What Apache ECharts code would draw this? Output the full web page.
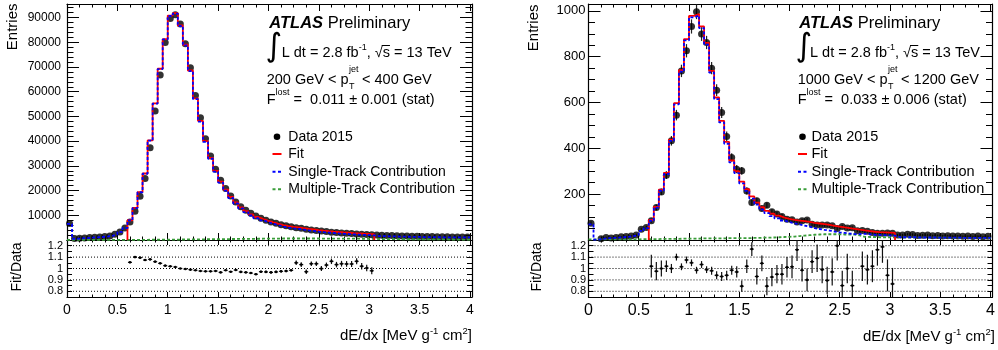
<!DOCTYPE html>
<html>
<head>
<meta charset="utf-8">
<script src="https://cdn.jsdelivr.net/npm/echarts@6/dist/echarts.min.js"></script>
<style>
  html, body { margin: 0; padding: 0; background: #fff; }
  #chart { width: 998px; height: 350px; }
</style>
</head>
<body>
<div id="chart"></div>
<script>
// dE/dx histograms, 80 bins of 0.05 MeV g^-1 cm^2 from 0 to 4
const binWidth = 0.05;
const nBins = 80;

// ---- left: 200 GeV < pT < 400 GeV ----
const dataLow = [6700, 580, 700, 840, 980, 1110, 1250, 1380, 1650, 2320, 3270, 4880,
  7300, 11600, 17700, 24900, 37300, 52200, 66800, 79900, 89600, 91200,
  87400, 79400, 69700, 58500, 49500, 41000, 34000, 28600, 24200, 20800,
  17800, 15400, 13500, 12000, 10800, 9700, 8800, 8000, 7300, 6800,
  6200, 5800, 5400, 5000, 4750, 4350, 4070, 3800, 3670, 3400,
  3130, 3000, 2860, 2730, 2600, 2460, 2320, 2190, 2100, 2000,
  1930, 1850, 1780, 1720, 1650, 1600, 1550, 1500, 1450, 1420,
  1380, 1350, 1320, 1290, 1260, 1240, 1220, 1200];
const fitLow = [null, null, null, null, null, null, null, null, null, null, null, null,
  8000, 13000, 19400, 26900, 40300, 55300, 69300, 81300, 90800, 91800,
  86800, 79000, 68600, 57300, 48200, 40000, 33200, 28000, 23600, 20400,
  17400, 15200, 13200, 11700, 10400, 9300, 8500, 7750, 7100, 6550,
  6050, 5650, 5300, 5100, 4800, 4500, 4250, 4000, 3780, 3580,
  3400, 3230, 3080, 2940, 2800, 2680, 2560, 2450, 2350, null,
  null, null, null, null, null, null, null, null, null, null,
  null, null, null, null, null, null, null, null];
const singleLow = [6500, 500, 650, 800, 950, 1080, 1220, 1380, 1650, 2300, 3250, 4850,
  7940, 12930, 19320, 26810, 40200, 55190, 69180, 81160, 90640, 91620,
  86600, 78780, 68360, 57040, 47920, 39700, 32880, 27660, 23240, 20020,
  17000, 14780, 12760, 11240, 9920, 8800, 7980, 7210, 6540, 5970,
  5450, 5050, 4700, 4500, 4200, 3900, 3650, 3400, 3190, 3000,
  2830, 2670, 2530, 2400, 2270, 2160, 2050, 1950, 1860, 1600,
  1550, 1490, 1440, 1400, 1350, 1310, 1270, 1230, 1190, 1170,
  1140, 1120, 1100, 1080, 1060, 1050, 1040, 1030];
const multiLow = [30, 30, 30, 30, 30, 30, 30, 30, 30, 30, 30, 30,
  60, 70, 80, 90, 100, 110, 120, 140, 160, 180,
  200, 220, 240, 260, 280, 300, 320, 340, 360, 380,
  400, 420, 440, 460, 480, 500, 520, 540, 560, 580,
  600, 600, 600, 600, 600, 600, 600, 600, 590, 580,
  570, 560, 550, 540, 530, 520, 510, 500, 490, 400,
  380, 360, 340, 320, 300, 290, 280, 270, 260, 250,
  240, 230, 220, 210, 200, 190, 180, 170];
const ratioLow = [null, null, null, null, null, null, null, null, null, null, null, null,
  1.054, 1.10, 1.095, 1.074, 1.08, 1.06, 1.045, 1.025, 1.019, 1.013,
  1.0, 0.995, 0.99, 0.984, 0.978, 0.975, 0.975, 0.978, 0.966, 0.984,
  0.972, 0.987, 0.97, 0.966, 0.96, 0.95, 0.972, 0.97, 0.966, 0.97,
  0.975, 0.978, 0.984, 1.05, 1.034, 0.972, 1.042, 1.042, 0.999, 1.03,
  1.063, 1.034, 1.042, 1.04, 1.04, 1.063, 1.02, 1.004, 0.98];
const ratioErrLow = [null, null, null, null, null, null, null, null, null, null, null, null,
  0.004, 0.004, 0.004, 0.004, 0.004, 0.004, 0.004, 0.004, 0.004, 0.004,
  0.004, 0.004, 0.004, 0.004, 0.004, 0.004, 0.004, 0.004, 0.006, 0.006,
  0.006, 0.006, 0.006, 0.006, 0.006, 0.006, 0.01, 0.01, 0.01, 0.01,
  0.01, 0.01, 0.01, 0.02, 0.02, 0.02, 0.02, 0.02, 0.022, 0.022,
  0.024, 0.024, 0.025, 0.025, 0.026, 0.026, 0.028, 0.028, 0.03];

// ---- right: 1000 GeV < pT < 1200 GeV ----
const dataHigh = [73, null, 6, 11, 9, 11, 14, 15, 18, 22, 47, 55,
  84, 142, 210, 283, 433, 545, 738, 826, 932, 996,
  899, 862, 750, 654, 557, 452, 360, 309, 302, 214,
  164, 171, 137, 152, 123, 113, 103, 91, 88, 79,
  84, 87, 69, 66, 66, 65, 62, 50, 59, 52,
  53, 40, 41, 38, 33, 30, 30, 31, 30, 22,
  22, 25, 24, 20, 21, 22, 19, 20, 18, 19,
  17, 18, 16, 17, 15, 17, 14, 16];
const errHigh = [9, null, 3, 3, 3, 3, 4, 4, 4, 5, 7, 7,
  9, 12, 14, 17, 21, 23, 27, 29, 31, 32,
  30, 29, 27, 26, 24, 21, 19, 18, 17, 15,
  13, 13, 12, 12, 11, 11, 10, 10, 9, 9,
  9, 9, 8, 8, 8, 8, 8, 7, 8, 7,
  7, 6, 6, 6, 6, 5, 5, 6, 5, 5,
  5, 5, 5, 5, 5, 5, 4, 4, 4, 4,
  4, 4, 4, 4, 4, 4, 4, 4];
const fitHigh = [null, null, null, null, null, null, null, null, null, null, null, null,
  88, 145, 220, 293, 438, 597, 741, 877, 978, 986,
  932, 860, 738, 622, 520, 428, 347, 300, 255, 222,
  190, 163, 143, 127, 115, 106, 98, 92, 88, 85,
  82, 79, 75, 72, 69, 66, 62, 58, 55, 52,
  49, 45, 42, 39, 36, 34, 33, 32, 31, null,
  null, null, null, null, null, null, null, null, null, null,
  null, null, null, null, null, null, null, null];
const singleHigh = [68, 2, 5, 8, 9, 10, 12, 14, 17, 22, 40, 52,
  84, 141, 215, 288, 433, 592, 735, 871, 972, 980,
  925, 853, 731, 615, 513, 420, 339, 292, 247, 214,
  181, 154, 133, 117, 104, 94, 85, 78, 73, 68,
  63, 58, 52, 48, 44, 41, 37, 33, 31, 28,
  26, 26, 27, 25, 23, 22, 21, 20, 19, 12,
  12, 12, 12, 11, 11, 11, 11, 10, 10, 10,
  10, 10, 9, 9, 9, 9, 9, 9];
const multiHigh = [3, 3, 3, 3, 3, 3, 3, 3, 3, 3, 4, 4,
  4, 4, 5, 5, 5, 5, 6, 6, 6, 6,
  7, 7, 7, 7, 7, 8, 8, 8, 8, 8,
  9, 9, 10, 10, 11, 12, 13, 14, 15, 17,
  19, 21, 23, 24, 25, 25, 25, 25, 24, 24,
  24, 20, 14, 13, 13, 12, 12, 12, 12, 11,
  11, 11, 11, 10, 10, 10, 10, 10, 10, 9,
  9, 9, 9, 9, 9, 8, 8, 8];
const ratioHigh = [null, null, null, null, null, null, null, null, null, null, null, null,
  1.02, 0.976, 1.0, 1.02, 1.0, 1.1, 1.015, 1.075, 1.05, 0.985,
  1.035, 0.99, 0.98, 0.94, 0.93, 0.94, 0.985, 0.97, 0.845, 1.02,
  1.17, 0.93, 1.045, 0.845, 0.925, 0.95, 0.95, 1.01, 1.015, 1.165,
  0.985, 0.9, 1.06, 1.09, 0.99, 0.895, 0.97, 1.2, 0.85, 1.0,
  0.85, null, 1.02, 0.99, 1.02, 1.165, 1.19, 0.94, 0.865];
const ratioErrHigh = [null, null, null, null, null, null, null, null, null, null, null, null,
  0.1, 0.08, 0.07, 0.05, 0.04, 0.03, 0.03, 0.03, 0.03, 0.03,
  0.03, 0.03, 0.035, 0.035, 0.04, 0.04, 0.04, 0.05, 0.05, 0.06,
  0.06, 0.07, 0.07, 0.08, 0.08, 0.08, 0.09, 0.09, 0.1, 0.1,
  0.1, 0.1, 0.1, 0.12, 0.12, 0.12, 0.12, 0.13, 0.13, 0.13,
  0.13, null, 0.13, 0.13, 0.14, 0.14, 0.14, 0.14, 0.14];

const ratioRefs = [0.8, 0.9, 1.0, 1.1, 1.2];

const FONT = "'Liberation Sans', Arial, Helvetica, sans-serif";
const RED = '#ff0000', BLUE = '#0000ff', GREEN = '#3a9d3a';

// ---------- helpers ----------
const measureCtx = document.createElement('canvas').getContext('2d');
function textWidth(str, font) {
  measureCtx.font = font;
  return measureCtx.measureText(str).width;
}
function fontOf(p, base) {
  return ((p.style || '') + ' ' + (p.size || base) + 'px ' + (p.family || FONT)).trim();
}
function advOf(p, base) {
  if (p.adv !== undefined) return p.adv;
  return textWidth(p.advText || p.t, fontOf(p, base));
}
// a line of text made of runs (for super/subscripts)
function textRun(x, y, parts, base, align) {
  const total = parts.reduce((w, p) => w + advOf(p, base), 0);
  let cx = align === 'right' ? x - total : x;
  const els = [], pos = [];
  parts.forEach(p => {
    const font = fontOf(p, base);
    els.push({
      type: 'text', x: cx + (p.dx || 0), y: y + (p.dy || 0), z: 100, silent: true,
      style: { text: p.t, font: font, fill: '#000', textAlign: 'left', textVerticalAlign: 'middle', align: 'left', verticalAlign: 'middle' }
    });
    pos.push({ x: cx, w: textWidth(p.t, font) });
    cx += advOf(p, base);
  });
  return { els: els, pos: pos };
}
function vText(x, y, str, size, align) {
  return {
    type: 'text', x: x, y: y, rotation: Math.PI / 2, z: 100, silent: true,
    style: { text: str, font: size + 'px ' + FONT, fill: '#000', textAlign: align, textVerticalAlign: 'middle', align: align, verticalAlign: 'middle' }
  };
}

// step outline of a histogram, built from bin values
function stepLine(vals, dropEnds) {
  const pts = [];
  let open = false;
  vals.forEach((v, i) => {
    const x0 = binWidth * i, x1 = binWidth * (i + 1);
    if (v == null) {
      if (open && dropEnds) pts.push([x0, 0]);
      open = false;
      return;
    }
    if (!open && dropEnds) pts.push([x0, 0]);
    pts.push([x0, v], [x1, v]);
    open = true;
  });
  if (open && dropEnds) pts.push([binWidth * vals.length, 0]);
  return pts;
}
function points(vals) {
  const out = [];
  vals.forEach((v, i) => { if (v != null) out.push([binWidth * (i + 0.5), v]); });
  return out;
}
function errPoints(vals, errs) {
  const out = [];
  vals.forEach((v, i) => { if (v != null && errs[i] != null) out.push([binWidth * (i + 0.5), v, errs[i]]); });
  return out;
}

// ---------- axes ----------
const fmtX = v => (Math.abs(v * 2 - Math.round(v * 2)) < 1e-6 && v <= 4.0001) ? String(Math.round(v * 2) / 2) : '';
function xAxesFor(grid, labelSize, isRatio) {
  const base = {
    type: 'value', gridIndex: grid, min: 0, max: 4.02, interval: 0.5,
    splitLine: { show: false },
    axisLine: { show: true, onZero: false, lineStyle: { color: '#000', width: 1.2 } },
    axisTick: { show: true, inside: true, length: isRatio ? 5 : 7, lineStyle: { color: '#000', width: 1 } },
    minorTick: { show: true, splitNumber: 4, length: isRatio ? 2.5 : 3.5, lineStyle: { color: '#000', width: 1 } }
  };
  return [
    Object.assign({}, base, {
      position: 'bottom',
      axisLabel: isRatio ? { show: true, fontSize: labelSize, color: '#000', fontFamily: FONT, margin: 6, formatter: fmtX } : { show: false }
    }),
    Object.assign({}, base, { position: 'top', axisLabel: { show: false } })
  ];
}
function yAxesMain(grid, max, interval, split, labelSize, margin) {
  const base = {
    type: 'value', gridIndex: grid, min: 0, max: max, interval: interval,
    splitLine: { show: false },
    axisLine: { show: true, onZero: false, lineStyle: { color: '#000', width: 1.2 } },
    axisTick: { show: true, inside: true, length: 12, lineStyle: { color: '#000', width: 1 } },
    minorTick: { show: true, splitNumber: split, length: 6.5, lineStyle: { color: '#000', width: 1 } }
  };
  return [
    Object.assign({}, base, {
      position: 'left',
      axisLabel: {
        show: true, fontSize: labelSize, color: '#000', fontFamily: FONT, margin: margin,
        formatter: v => (v > 0 && v % interval === 0) ? String(v) : ''
      }
    }),
    Object.assign({}, base, { position: 'right', axisLabel: { show: false } })
  ];
}
function yAxesRatio(grid, labelSize, margin) {
  const base = {
    type: 'value', gridIndex: grid, min: 0.75, max: 1.25, interval: 0.05,
    splitLine: { show: false },
    axisLine: { show: true, onZero: false, lineStyle: { color: '#000', width: 1.2 } },
    axisTick: { show: true, inside: true, length: 5, lineStyle: { color: '#000', width: 1 } }
  };
  return [
    Object.assign({}, base, {
      position: 'left',
      axisLabel: {
        show: true, fontSize: labelSize, color: '#000', fontFamily: FONT, margin: margin,
        formatter: v => (Math.abs(v * 10 - Math.round(v * 10)) < 1e-6 && v > 0.79 && v < 1.21) ? String(Math.round(v * 10) / 10) : ''
      }
    }),
    Object.assign({}, base, { position: 'right', axisLabel: { show: false } })
  ];
}

// ---------- series ----------
function histSeries(xi, yi, vals, color, dash, dropEnds) {
  return {
    type: 'line', xAxisIndex: xi, yAxisIndex: yi, data: stepLine(vals, dropEnds),
    showSymbol: false, symbol: 'none', silent: true, clip: true,
    lineStyle: { color: color, width: 1.8, type: dash ? [3, 2] : 'solid' }
  };
}
function mainSeries(xi, yi, data, fit, single, multi, errs) {
  const s = [
    histSeries(xi, yi, multi, GREEN, true, false),
    histSeries(xi, yi, fit, RED, false, true),
    histSeries(xi, yi, single, BLUE, true, false)
  ];
  if (errs) {
    s.push({
      type: 'custom', xAxisIndex: xi, yAxisIndex: yi, data: errPoints(data, errs), silent: true,
      encode: { x: 0, y: 1 },
      renderItem: (params, api) => {
        const x = api.value(0), y = api.value(1), e = api.value(2);
        const a = api.coord([x, y - e]), b = api.coord([x, y + e]);
        return { type: 'line', shape: { x1: a[0], y1: a[1], x2: b[0], y2: b[1] }, style: { stroke: '#222', lineWidth: 1.2 } };
      }
    });
  }
  s.push({
    type: 'scatter', xAxisIndex: xi, yAxisIndex: yi, data: points(data), silent: true,
    symbol: 'circle', symbolSize: 7, itemStyle: { color: '#000' }
  });
  return s;
}
function ratioSeries(xi, yi, ratio, errs) {
  const s = ratioRefs.map(r => ({
    type: 'line', xAxisIndex: xi, yAxisIndex: yi, data: [[0, r], [4.02, r]],
    showSymbol: false, symbol: 'none', silent: true,
    lineStyle: { color: '#000', width: 1, type: [1, 2] }
  }));
  s.push({
    type: 'custom', xAxisIndex: xi, yAxisIndex: yi, data: errPoints(ratio, errs), silent: true,
    encode: { x: 0, y: 1 },
    renderItem: (params, api) => {
      const x = api.value(0), y = api.value(1), e = api.value(2);
      const lo = Math.max(0.75, y - e), hi = Math.min(1.25, y + e);
      const a = api.coord([x, lo]), b = api.coord([x, hi]);
      const l = api.coord([x - 0.02, y]), r = api.coord([x + 0.02, y]);
      const c = api.coord([x, y]);
      return {
        type: 'group', children: [
          { type: 'line', shape: { x1: a[0], y1: a[1], x2: b[0], y2: b[1] }, style: { stroke: '#111', lineWidth: 1.2 } },
          { type: 'line', shape: { x1: l[0], y1: l[1], x2: r[0], y2: r[1] }, style: { stroke: '#111', lineWidth: 1.2 } },
          { type: 'circle', shape: { cx: c[0], cy: c[1], r: 1.3 }, style: { fill: '#000' } }
        ]
      };
    }
  });
  return s;
}

// ---------- text boxes ----------
function infoBox(x0, lines) {
  const els = [];
  // ATLAS Preliminary
  els.push(...textRun(x0.atlas, 23, [
    { t: 'ATLAS', style: 'italic bold' }, { t: ' Preliminary' }
  ], 16.5).els);
  // integral sign
  els.push({
    type: 'text', x: x0.integral, y: 48, z: 100, silent: true,
    style: { text: '\u222B', font: '32px DejaVu Sans', fill: '#000', textAlign: 'left', textVerticalAlign: 'middle', align: 'left', verticalAlign: 'middle' }
  });
  const lumi = textRun(x0.lumi, 53, [
    { t: 'L dt = 2.8 fb' }, { t: '-1', size: 9, dy: -5 }, { t: ', ' }, { t: '\u221A' }, { t: 's' }, { t: ' = 13 TeV' }
  ], 14.5);
  els.push(...lumi.els);
  const sq = lumi.pos[3], sv = lumi.pos[4];
  els.push({ type: 'line', z: 100, silent: true, shape: { x1: sq.x + sq.w - 1, y1: 45.5, x2: sv.x + sv.w, y2: 45.5 }, style: { stroke: '#000', lineWidth: 1 } });
  els.push(...textRun(x0.text, 80, [
    { t: lines.ptLo + ' GeV < p' }, { t: 'jet', size: 9, dy: -10, dx: 0.5, adv: 0 }, { t: 'T', size: 9, dy: 7, dx: 0.5, advText: 'jet' }, { t: ' < ' + lines.ptHi + ' GeV' }
  ], 14.5).els);
  els.push(...textRun(x0.text, 100, [
    { t: 'F' }, { t: 'lost', size: 9, dy: -7 }, { t: ' =  ' + lines.flost + ' \u00B1 ' + lines.ferr + ' (stat)' }
  ], 14.5).els);
  // legend
  const ly = [136.7, 154, 171.7, 189.3];
  const mx = x0.marker;
  els.push({ type: 'circle', z: 100, silent: true, shape: { cx: mx, cy: ly[0], r: 3.3 }, style: { fill: '#000' } });
  els.push({ type: 'line', z: 100, silent: true, shape: { x1: mx - 4.5, y1: ly[1], x2: mx + 4.5, y2: ly[1] }, style: { stroke: RED, lineWidth: 2 } });
  els.push({ type: 'line', z: 100, silent: true, shape: { x1: mx - 4.5, y1: ly[2], x2: mx + 4.5, y2: ly[2] }, style: { stroke: BLUE, lineWidth: 2, lineDash: [3, 2.5] } });
  els.push({ type: 'line', z: 100, silent: true, shape: { x1: mx - 4.5, y1: ly[3], x2: mx + 4.5, y2: ly[3] }, style: { stroke: GREEN, lineWidth: 2, lineDash: [3, 2.5] } });
  ['Data 2015', 'Fit', 'Single-Track Contribution', 'Multiple-Track Contribution'].forEach((t, i) => {
    els.push(...textRun(x0.legend, ly[i], [{ t: t }], x0.legendSize).els);
  });
  return els;
}
function xTitle(right, y) {
  return textRun(right, y, [
    { t: 'dE/dx [MeV g' }, { t: '-1', size: 9.5, dy: -5 }, { t: ' cm' }, { t: '2', size: 9.5, dy: -5 }, { t: ']' }
  ], 15, 'right').els;
}

const graphics = [].concat(
  infoBox({ atlas: 269.3, integral: 265.5, lumi: 281.7, text: 266.7, marker: 277, legend: 288.3, legendSize: 14 },
    { ptLo: '200', ptHi: '400', flost: '0.011', ferr: '0.001' }),
  infoBox({ atlas: 799.3, integral: 795.5, lumi: 810, text: 797.7, marker: 802.5, legend: 811.5, legendSize: 14.5 },
    { ptLo: '1000', ptHi: '1200', flost: '0.033', ferr: '0.006' }),
  xTitle(472, 336),
  xTitle(995, 337),
  [vText(12.5, 3.5, 'Entries', 15, 'right'), vText(534, 4.5, 'Entries', 15, 'right'),
   vText(17, 267, 'Fit/Data', 14, 'center'), vText(537.5, 267, 'Fit/Data', 14, 'center')]
);

const chart = echarts.init(document.getElementById('chart'), null, { renderer: 'canvas' });
chart.setOption({
  animation: false,
  backgroundColor: '#fff',
  grid: [
    { left: 67, top: 4, width: 405, height: 236, outerBoundsMode: 'none' },
    { left: 67, top: 240, width: 405, height: 57, outerBoundsMode: 'none' },
    { left: 588.5, top: 4, width: 404, height: 236, outerBoundsMode: 'none' },
    { left: 588.5, top: 240, width: 404, height: 57, outerBoundsMode: 'none' }
  ],
  xAxis: [].concat(xAxesFor(0, 14, false), xAxesFor(1, 14, true), xAxesFor(2, 16, false), xAxesFor(3, 16, true)),
  yAxis: [].concat(
    yAxesMain(0, 95500, 10000, 5, 12, 6), yAxesRatio(1, 11, 4),
    yAxesMain(2, 1030, 200, 4, 13, 3), yAxesRatio(3, 11, 2.5)
  ),
  series: [].concat(
    mainSeries(0, 0, dataLow, fitLow, singleLow, multiLow, null),
    ratioSeries(2, 2, ratioLow, ratioErrLow),
    mainSeries(4, 4, dataHigh, fitHigh, singleHigh, multiHigh, errHigh),
    ratioSeries(6, 6, ratioHigh, ratioErrHigh)
  ),
  graphic: graphics
});
</script>
</body>
</html>
